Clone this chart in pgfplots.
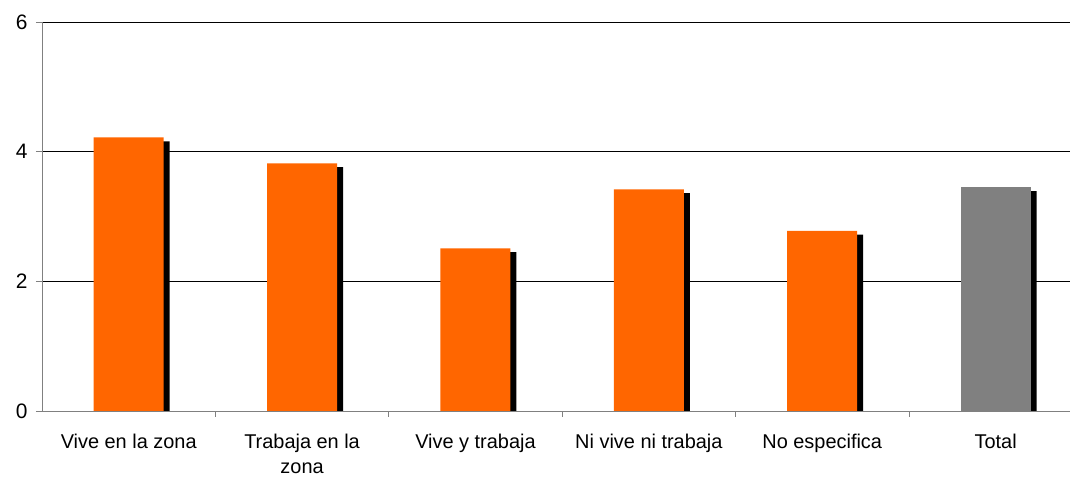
\documentclass[border=0pt]{standalone}
\usepackage{pgfplots}
\pgfplotsset{compat=1.18}
\usepackage{fontspec}
\setmainfont{Liberation Sans}
\usetikzlibrary{calc}
\definecolor{barorange}{RGB}{255,102,0}
\definecolor{bargray}{RGB}{128,128,128}
\begin{document}
\begin{tikzpicture}
\begin{axis}[
  name=ax,
  at={(0,0)}, anchor=south west,
  scale only axis,
  width=1028bp, height=389bp,
  xmin=-0.5, xmax=5.429,
  ymin=0, ymax=6,
  ytick={0,2,4,6},
  ymajorgrids,
  grid style={black, line width=0.6pt},
  axis x line*=bottom,
  axis y line*=left,
  axis line style={gray, line width=0.8pt},
  xtick={0,1,2,3,4,5},
  xticklabels={Vive en la zona, Trabaja en la\\zona, Vive y trabaja, Ni vive ni trabaja, No especifica, Total},
  xticklabel style={align=center, font=\fontsize{20}{25}\selectfont, yshift=-14bp},
  minor xtick={0.5,1.5,2.5,3.5,4.5},
  major x tick style={draw=none},
  minor x tick style={draw=gray, line width=0.8pt},
  minor tick length=6bp,
  yticklabel style={font=\fontsize{21}{22}\selectfont, xshift=-5bp},
  /pgf/number format/assume math mode=true,
  ytick style={draw=gray, line width=0.8pt},
  major tick length=6bp,
  tick align=outside,
  ybar,
  bar width=70bp,
  clip=false,
]
\addplot[fill=black, draw=none, bar shift=6bp] coordinates {(0,4.16) (1,3.76) (2,2.45) (3,3.36) (4,2.72) (5,3.39)};
\addplot[fill=barorange, draw=none, bar shift=0pt] coordinates {(0,4.22) (1,3.82) (2,2.51) (3,3.42) (4,2.78)};
\addplot[fill=bargray, draw=none, bar shift=0pt] coordinates {(5,3.45)};
\end{axis}
\pgfresetboundingbox
\path ($(ax.south west)+(-42bp,-66bp)$) rectangle ($(ax.north east)+(0,22bp)$);
\end{tikzpicture}
\end{document}
